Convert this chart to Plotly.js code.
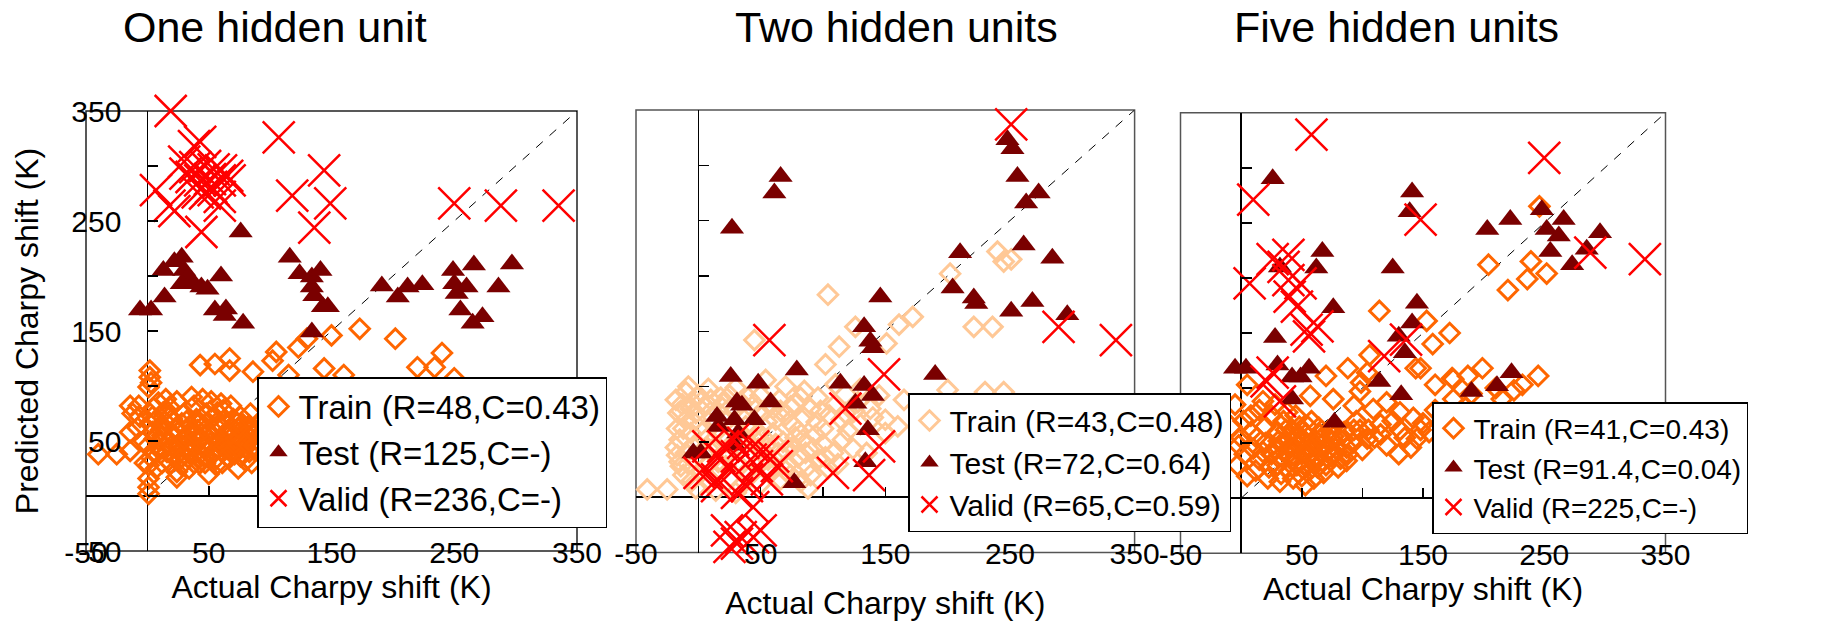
<!DOCTYPE html>
<html><head><meta charset="utf-8">
<script src="https://cdn.plot.ly/plotly-3.0.1.min.js"></script>
<style>html,body{margin:0;padding:0;background:#fff}#chart{width:1829px;height:621px}</style>
</head><body><div id="chart"></div>
<script>
// ---------- text ----------
const panelTitles = ['One hidden unit', 'Two hidden units', 'Five hidden units'];
const xAxisTitle = 'Actual Charpy shift (K)';
const yAxisTitle = 'Predicted Charpy shift (K)';
const axisRange = [-50, 350];
const tickValues = [-50, 0, 50, 100, 150, 200, 250, 300, 350];
const tickLabels = ['-50', '', '50', '', '150', '', '250', '', '350'];
const diagonal = [0, 350];

const p1Names = ['Train (R=48,C=0.43)', 'Test (R=125,C=-)', 'Valid (R=236,C=-)'];
const p2Names = ['Train (R=43,C=0.48)', 'Test (R=72,C=0.64)', 'Valid (R=65,C=0.59)'];
const p3Names = ['Train (R=41,C=0.43)', 'Test (R=91.4,C=0.04)', 'Valid (R=225,C=-)'];

// ---------- panel 1 (one hidden unit) ----------
const p1TrainX = [2,2,3,43,55,67,67,86,102,105,123,130,150,173,202,220,234,240,144,160,115,250,
  -40,-25,-14,-14,-14,-7,-6,-12,1,1,1,1,1,
  5,18,8,14,20,26,32,10,16,22,28,24,24,36,40,44,48,52,56,60,64,68,72,76,80,84,88,30,38,46,54,62,70,78,86,12,6,4,34,42,50,58,66,74,82,90,2,15,28,45,60,20,35,50,65,80,
  92,96,100,104,110,118,126,135,145,160,175,190,205,215,230,245,
  0,3,7,11,17,19,25,27,33,37,41,43,47,53,57,61,63,67,71,73,77,79,83,85,87,9,24,36,52,68,-3,-8,-2,30,45,55,70,58,40,25,12,18,32,48,62,76,83,89,
  6,10,14,21,23,29,31,35,39,42,46,49,51,56,59,62,66,69,72,75,78,81,84,87,4,13,27,38,44,57,65,74];
const p1TrainY = [114,108,103,119,120,125,114,113,123,131,135,143,146,152,143,117,117,130,116,110,110,107,
  38,38,41,58,82,82,72,75,99,28,16,8,2,
  80,81,70,62,55,48,42,50,40,35,28,22,17,60,70,52,45,38,28,41,55,62,48,36,32,75,60,75,82,64,72,78,70,65,45,30,40,58,25,30,20,48,35,25,55,50,66,88,66,88,84,70,50,58,44,44,
  68,58,40,62,52,48,66,58,70,60,80,72,90,66,85,95,
  45,35,25,60,48,30,58,40,35,45,60,38,30,55,62,30,48,56,38,66,50,58,40,30,55,85,86,90,86,82,50,62,30,52,45,40,55,65,50,45,55,72,68,75,68,72,64,42,
  52,42,68,44,62,50,60,40,56,66,36,58,48,34,52,44,60,42,52,46,38,48,60,46,72,76,34,30,70,76,36,62];
const p1TestX = [-6,3,14,13,22,28,30,33,28,38,44,49,60,55,64,63,78,76,116,124,134,141,134,136,143,147,134,191,204,212,224,249,250,252,260,255,265,273,266,286,297];
const p1TestY = [169,169,181,205,213,217,205,199,193,193,190,188,200,169,170,164,157,240,217,202,199,205,190,182,172,172,149,191,181,190,192,205,193,184,190,169,157,163,210,190,211];
const p1ValidX = [7,19,43,38,107,144,30,39,47,54,60,65,59,51,43,36,31,54,47,59,52,41,67,7,18,22,44,59,118,149,136,250,288,335];
const p1ValidY = [354,350,322,318,326,296,304,299,300,297,296,291,287,288,287,290,293,278,275,272,281,276,287,278,264,259,240,264,273,266,244,266,264,264];

// ---------- panel 2 (two hidden units) ----------
const p2TrainX = [104,240,245,251,202,172,161,126,151,113,45,102,221,236,200,230,245,54,-41,-25,-14,88,
  -18,-16,-17,-13,-10,-5,0,5,10,15,20,25,30,35,40,45,50,55,60,65,70,75,80,85,90,95,100,105,110,115,120,125,130,140,150,160,
  -18,-15,-12,-4,4,12,20,28,36,44,52,60,68,76,84,92,100,108,116,124,135,
  -17,-15,-8,0,8,16,24,32,40,48,56,64,72,80,88,96,104,112,
  -12,-5,2,10,18,26,34,42,50,58,66,74,82,
  -8,8,30,70,85,110,130,145,165,180,-2,12,22,38,48,62,78,96,
  -10,-6,-2,6,14,22,30,38,46,54,62,70,78,86,94,102,-14,-6,2,18,34,50,58,66,74,82,98,118,128,138,150,-10,6,22,38,54,70,90,-2,14,30];
const p2TrainY = [183,222,213,215,202,163,156,154,139,136,142,120,154,154,97,95,95,106,7,7,28,8,
  88,76,62,84,95,86,92,82,88,78,85,92,80,72,90,84,76,68,80,88,74,66,60,72,80,68,62,74,84,70,60,78,66,72,58,64,
  45,52,62,68,60,66,58,64,56,62,54,58,50,46,52,44,48,40,52,44,40,
  38,32,30,38,44,32,40,30,38,44,34,40,30,36,28,34,26,30,
  20,15,22,14,24,18,10,20,12,22,16,20,14,
  100,98,99,100,96,102,98,92,88,82,76,72,68,64,58,70,84,90,
  70,58,48,52,46,50,44,48,52,46,48,42,54,40,56,36,78,80,86,90,86,92,84,78,82,90,78,76,86,80,70,40,28,28,22,26,24,20,8,6,4];
const p2TestX = [248,252,256,273,263,66,61,27,210,261,284,146,204,221,223,268,251,296,133,138,140,190,26,48,79,114,133,140,126,136,58,31,35,15,16,29,32,45,-4,2,29,134,77];
const p2TestY = [323,315,290,275,266,290,275,243,221,228,216,181,189,180,175,177,168,165,154,141,135,111,109,103,115,103,101,92,85,61,86,86,83,73,64,70,58,70,40,40,47,32,13];
const p2ValidX = [251,57,289,335,149,118,145,108,137,20,28,36,44,52,60,42,31,17,7,25,47,63,55,39,15,8,1,15,39,31,44,23,34,50,25,31,44];
const p2ValidY = [337,142,154,142,111,80,46,22,20,46,52,49,46,41,37,34,37,37,22,25,28,28,16,10,10,46,22,16,16,4,-9,-30,-36,-30,-45,-42,-36];

// ---------- panel 3 (five hidden units) ----------
const p3TrainX = [246,204,239,252,236,220,114,153,172,158,144,106,88,70,199,187,174,160,245,232,99,5,104,148,175,57,76,98,93,109,120,131,142,148,131,115,104,87,98,68,87,145,
  30,35,40,45,50,55,60,65,70,75,80,25,20,15,10,30,40,50,60,35,45,55,65,75,85,20,25,15,12,22,32,8,2,-5,0,-3,5,42,52,62,72,82,92,100,110,120,130,140,155,170,185,200,215,
  28,33,38,43,48,53,58,63,68,73,78,83,88,93,18,13,23,33,43,53,63,58,48,38,28,18,8,3,-2,-8,95,105,115,125,135,150,160,175,190,210,225,
  31,36,41,46,51,56,61,66,71,76,37,47,57,67,77,44,54,64];
const p3TrainY = [265,212,215,204,199,189,170,161,150,140,118,130,118,111,118,111,109,103,111,103,105,103,114,118,108,93,90,97,84,81,87,78,73,62,62,67,54,46,62,23,34,54,
  60,50,45,55,40,48,35,42,30,38,28,40,50,35,45,30,25,20,18,70,75,65,58,52,60,65,75,80,25,18,15,60,70,85,55,30,20,62,30,52,44,36,50,44,55,48,40,46,60,70,82,75,90,
  45,38,55,35,48,58,42,28,50,62,45,52,40,62,42,55,28,22,18,12,36,70,65,78,85,88,75,40,48,65,70,62,58,70,55,68,80,90,95,100,98,
  52,42,38,30,52,38,48,54,42,56,62,58,26,34,66,46,42,64];
const p3TestX = [26,141,139,203,222,248,266,252,262,296,255,273,285,67,62,32,125,145,76,141,130,135,28,-5,4,30,42,56,49,114,132,190,211,223,42,77];
const p3TestY = [290,278,260,244,253,262,253,244,238,241,224,212,226,224,209,210,209,177,173,159,147,132,146,118,118,121,110,118,110,106,94,97,102,114,90,69];
const p3ValidX = [58,250,10,148,288,333,7,26,39,35,49,40,46,54,63,56,136,118,26,21,32,39];
const p3ValidY = [330,309,271,253,223,217,195,217,221,210,195,183,174,153,156,147,144,129,114,106,88,198];

// ---------- layout geometry (pixels of the 1829x621 page) ----------
const W = 1829, H = 621;
const FONT = 'Liberation Sans, Arial, Helvetica, sans-serif';
const geo = [
  {x: [86, 577], y: [111, 551], title: [275, 27], legend: [257, 377], lfont: 33, xstand: 0},
  {x: [636, 1134.6], y: [110, 552.5], title: [896, 27], legend: [908, 393], lfont: 30, xstand: 24},
  {x: [1180.5, 1665.5], y: [112.7, 553.3], title: [1396, 27], legend: [1432, 402], lfont: 28, xstand: 0}
];
const trainColors = ['#FF6600', '#FFC896', '#FF6600'];

const dataSets = [
  {tx: p1TrainX, ty: p1TrainY, ex: p1TestX, ey: p1TestY, vx: p1ValidX, vy: p1ValidY, names: p1Names},
  {tx: p2TrainX, ty: p2TrainY, ex: p2TestX, ey: p2TestY, vx: p2ValidX, vy: p2ValidY, names: p2Names},
  {tx: p3TrainX, ty: p3TrainY, ex: p3TestX, ey: p3TestY, vx: p3ValidX, vy: p3ValidY, names: p3Names}
];

const traces = [];
const layout = {
  width: W, height: H, margin: {l: 0, r: 0, t: 0, b: 0},
  paper_bgcolor: '#fff', plot_bgcolor: 'rgba(0,0,0,0)',
  showlegend: true, hovermode: false,
  font: {family: FONT, color: '#000'},
  shapes: [], annotations: []
};

function zeroFrac(d) { return d[0] + (0 - axisRange[0]) / (axisRange[1] - axisRange[0]) * (d[1] - d[0]); }

dataSets.forEach((ds, i) => {
  const g = geo[i];
  const sfx = i === 0 ? '' : String(i + 1);
  const xa = 'x' + sfx, ya = 'y' + sfx;
  const leg = 'legend' + sfx;
  const xd = [g.x[0] / W, g.x[1] / W];
  const yd = [1 - g.y[1] / H, 1 - g.y[0] / H];

  layout['xaxis' + sfx] = {
    domain: xd, range: axisRange, anchor: 'free', position: zeroFrac(yd), side: 'bottom',
    showgrid: false, showline: false, zeroline: true, zerolinecolor: '#000', zerolinewidth: 1.5,
    ticks: 'inside', ticklen: 10, tickwidth: 1.5, tickcolor: '#000',
    tickmode: 'array', tickvals: tickValues, ticktext: tickLabels,
    tickfont: {family: FONT, size: 30, color: '#000'}, ticklabelstandoff: 36,
    title: {text: xAxisTitle, font: {family: FONT, size: 32, color: '#000'}, standoff: g.xstand},
    fixedrange: true
  };
  layout['yaxis' + sfx] = {
    domain: yd, range: axisRange, anchor: 'free', position: zeroFrac(xd), side: 'left',
    showgrid: false, showline: false, zeroline: true, zerolinecolor: '#000', zerolinewidth: 1.5,
    ticks: 'inside', ticklen: 10, tickwidth: 1.5, tickcolor: '#000',
    tickmode: 'array', tickvals: tickValues, ticktext: tickLabels,
    showticklabels: i === 0,
    tickfont: {family: FONT, size: 30, color: '#000'}, ticklabelstandoff: 26,
    title: i === 0 ? {text: yAxisTitle, font: {family: FONT, size: 32, color: '#000'}, standoff: 22} : {text: ''},
    fixedrange: true
  };
  layout.shapes.push({type: 'rect', xref: xa + ' domain', yref: ya + ' domain', x0: 0, x1: 1, y0: 0, y1: 1,
    line: {color: i === 0 ? '#222' : '#555', width: 1.5}, layer: 'below'});
  layout.annotations.push({text: panelTitles[i], xref: 'paper', yref: 'paper', x: g.title[0] / W, y: 1 - g.title[1] / H,
    xanchor: 'center', yanchor: 'middle', showarrow: false, font: {family: FONT, size: 43, color: '#000'}});
  layout[leg] = {
    x: g.legend[0] / W, y: 1 - g.legend[1] / H, xanchor: 'left', yanchor: 'top',
    bgcolor: '#fff', bordercolor: '#000', borderwidth: 1.5,
    font: {family: FONT, size: g.lfont, color: '#000'}, tracegroupgap: 0, itemwidth: 30
  };

  traces.push({x: diagonal, y: diagonal, xaxis: xa, yaxis: ya, mode: 'lines', showlegend: false,
    line: {color: '#000', width: 1, dash: 'dash'}});
  traces.push({x: ds.tx, y: ds.ty, xaxis: xa, yaxis: ya, mode: 'markers', name: ds.names[0], legend: leg, cliponaxis: false,
    marker: {symbol: 'diamond-open', size: 15, color: trainColors[i], line: {color: trainColors[i], width: 3}}});
  traces.push({x: ds.ex, y: ds.ey, xaxis: xa, yaxis: ya, mode: 'markers', name: ds.names[1], legend: leg, cliponaxis: false,
    marker: {symbol: 'triangle-up', size: 21, color: '#7A0000', line: {width: 0}}});
  traces.push({x: ds.vx, y: ds.vy, xaxis: xa, yaxis: ya, mode: 'markers', name: ds.names[2], legend: leg, cliponaxis: false,
    marker: {symbol: 'x-thin-open', size: 32, color: '#FF0000', line: {color: '#FF0000', width: 2.5}}});
});

Plotly.newPlot('chart', traces, layout, {displayModeBar: false, staticPlot: true});
</script>
</body></html>
